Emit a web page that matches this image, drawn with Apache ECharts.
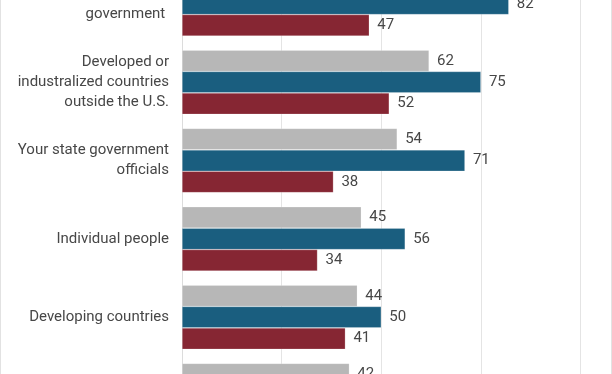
<!DOCTYPE html>
<html>
<head>
<meta charset="utf-8">
<script src="https://cdn.jsdelivr.net/npm/echarts@6/dist/echarts.min.js"></script>
<style>
  html, body { margin: 0; padding: 0; width: 612px; height: 374px; overflow: hidden; background: #fff; }
  #chart { position: absolute; left: 0; top: -100px; width: 612px; height: 600px; }
  #frame { position: absolute; left: 0; top: 0; width: 610px; height: 374px; border-left: 1px solid #e2e2e2; border-right: 1px solid #e2e2e2; pointer-events: none; }
</style>
</head>
<body>
<div id="chart"></div>
<div id="frame"></div>
<script>
const categories = [
  "Your federal\ngovernment ",
  "Developed or\nindustralized countries\noutside the U.S.",
  "Your state government\nofficials",
  "Individual people",
  "Developing countries",
  "Businesses"
];
const seriesNames = ["Total", "Democrats", "Republicans"];
const totalValues = [66, 62, 54, 45, 44, 42];
const demValues = [82, 75, 71, 56, 50, 48];
const repValues = [47, 52, 38, 34, 41, 36];
const xTicks = [0, 25, 50, 75, 100];
const colors = ["#b7b7b7", "#1a5e7f", "#862633"];

const chart = echarts.init(document.getElementById('chart'), null, { renderer: 'canvas' });
const labelStyle = { show: true, position: 'right', distance: 8, color: '#474747', fontFamily: 'Roboto', fontSize: 15 };
function mk(name, data, color) {
  return {
    name: name, type: 'bar', data: data,
    barGap: '0%', barCategoryGap: '18%',
    itemStyle: { color: color, borderColor: 'rgba(255,255,255,0.35)', borderWidth: 0.6 },
    label: labelStyle,
    emphasis: { disabled: true }
  };
}
chart.setOption({
  animation: false,
  grid: { left: 182, right: 31.5, top: 64.7, height: 470, containLabel: false },
  xAxis: {
    type: 'value', min: xTicks[0], max: xTicks[xTicks.length - 1], interval: 25,
    axisLabel: { show: false }, axisLine: { show: false }, axisTick: { show: false },
    splitLine: { show: true, lineStyle: { color: '#e4e4e4', width: 1 } }
  },
  yAxis: {
    type: 'category', data: categories, inverse: true,
    axisLine: { show: true, lineStyle: { color: '#dcdcdc', width: 1 } },
    axisTick: { show: false },
    axisLabel: { color: '#474747', fontFamily: 'Roboto', fontSize: 15, lineHeight: 20, margin: 13, align: 'right' }
  },
  series: [
    mk(seriesNames[0], totalValues, colors[0]),
    mk(seriesNames[1], demValues, colors[1]),
    mk(seriesNames[2], repValues, colors[2])
  ]
});
</script>
</body>
</html>
